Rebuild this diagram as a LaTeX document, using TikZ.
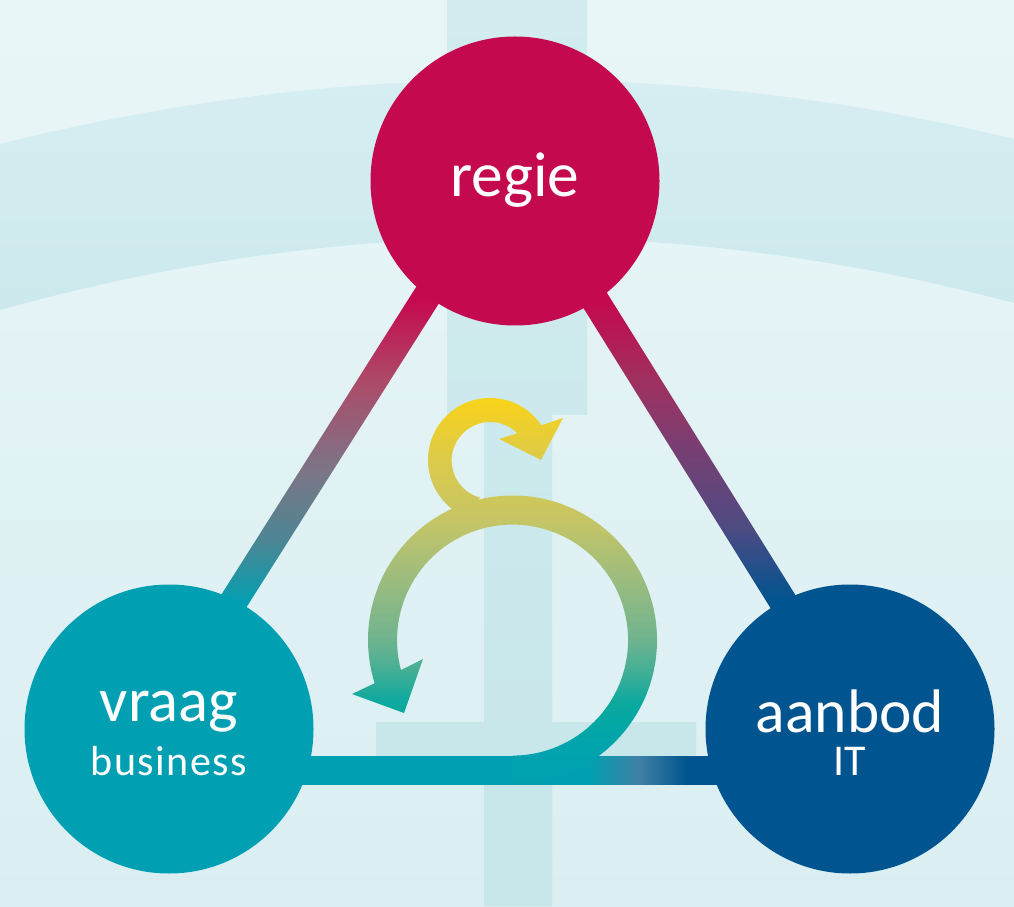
\documentclass[tikz,border=0pt]{standalone}
\usepackage{fontspec}
\setmainfont{Carlito}
\usetikzlibrary{calc}
\definecolor{crim}{HTML}{C5094E}
\definecolor{teal1}{HTML}{00A0B2}
\definecolor{navy1}{HTML}{00548F}
\definecolor{la}{HTML}{AD4A68}
\definecolor{lb}{HTML}{7C7587}
\definecolor{lc}{HTML}{4D8694}
\definecolor{ra}{HTML}{A0305F}
\definecolor{rb}{HTML}{7A3F72}
\definecolor{rc}{HTML}{4F4A82}
\definecolor{ba}{HTML}{3F80A5}
\definecolor{s1}{HTML}{00A3AE}
\definecolor{s2}{HTML}{03A8A3}
\definecolor{s3}{HTML}{0FA99E}
\definecolor{s4}{HTML}{40AE96}
\definecolor{s5}{HTML}{6FB48F}
\definecolor{s6}{HTML}{9BBC7F}
\definecolor{s7}{HTML}{C4C566}
\definecolor{s8}{HTML}{DCCB4A}
\definecolor{s9}{HTML}{F9D31A}
\pgfdeclareverticalshading{leftline}{100bp}{color(0bp)=(teal1); color(29.4bp)=(teal1); color(38.2bp)=(lc); color(47.6bp)=(lb); color(59.8bp)=(la); color(70.6bp)=(crim); color(100bp)=(crim)}
\pgfdeclareverticalshading{rightline}{100bp}{color(0bp)=(navy1); color(30bp)=(navy1); color(40bp)=(rc); color(51bp)=(rb); color(60bp)=(ra); color(70.6bp)=(crim); color(100bp)=(crim)}
\pgfdeclarehorizontalshading{bottomline}{100bp}{color(0bp)=(teal1); color(58.4bp)=(teal1); color(64.5bp)=(ba); color(70bp)=(navy1); color(100bp)=(navy1)}
\pgfdeclareverticalshading{spiral}{100bp}{color(0bp)=(teal1); color(25bp)=(teal1); color(29.5bp)=(s1); color(33.4bp)=(s2); color(36bp)=(s3); color(39.5bp)=(s4); color(43.7bp)=(s5); color(51.5bp)=(s6); color(58.9bp)=(s7); color(67bp)=(s8); color(75bp)=(s9); color(100bp)=(s9)}
\newcommand{\bigf}[1]{\fontsize{#1}{50}\selectfont}
\newcommand{\subf}{\fontsize{42}{50}\selectfont\addfontfeature{LetterSpace=3.5}}
\newcommand{\itf}{\fontsize{44}{50}\selectfont}
\tikzset{
  hub/.style={circle,minimum size=289pt,inner sep=0pt,text=white,align=center},
}
\begin{document}
\begin{tikzpicture}[x=1pt,y=1pt]
\useasboundingbox (0,0) rectangle (1014,906);
% background
\shade[top color={rgb,255:red,233;green,246;blue,247},
  bottom color={rgb,255:red,218;green,238;blue,242}] (0,0) rectangle (1014,906);
% curved band
\begin{scope}
  \clip (0,762) .. controls (338,846.3) and (676,848) .. (1014,767) -- (1014,603)
        .. controls (676,692.7) and (338,690.3) .. (0,596) -- cycle;
  \shade[top color={rgb,255:red,214;green,238;blue,241},
         bottom color={rgb,255:red,205;green,233;blue,237}] (0,596) rectangle (1014,830);
\end{scope}
% vertical I-shape
\shade[top color={rgb,255:red,210;green,236;blue,239},
       bottom color={rgb,255:red,198;green,230;blue,234}]
  (447,906) -- (587,906) -- (587,491) -- (552,491) -- (552,184) -- (696,184) -- (696,136)
  -- (552,136) -- (552,0) -- (484,0) -- (484,136) -- (376,136) -- (376,184) -- (484,184)
  -- (484,491) -- (447,491) -- cycle;
% connector end points
\coordinate (ltop) at (440.3,631);
\coordinate (lbot) at (215.5,276);
\coordinate (rtop) at (579.3,631);
\coordinate (rbot) at (800.7,276);
\coordinate (bleft) at (300,136);
\coordinate (bright) at (730,136);
% connectors
\shade[shading=leftline] ($(ltop)!14pt!90:(lbot)$) -- ($(lbot)!14pt!-90:(ltop)$)
  -- ($(lbot)!14pt!90:(ltop)$) -- ($(ltop)!14pt!-90:(lbot)$) -- cycle;
\shade[shading=rightline] ($(rtop)!14pt!90:(rbot)$) -- ($(rbot)!14pt!-90:(rtop)$)
  -- ($(rbot)!14pt!90:(rtop)$) -- ($(rtop)!14pt!-90:(rbot)$) -- cycle;
\shade[shading=bottomline] ($(bleft)+(0,14)$) rectangle ($(bright)+(0,-14)$);
% spiral arrow
\shade[shading=spiral]
  (512.5,121.5) arc[start angle=-90,end angle=197.4,radius=144.5]
  -- (352,212) -- (404,193) -- (423,247) -- (401,236)
  arc[start angle=195,end angle=-90,radius=115.5] -- cycle
  (480.2,408.3) arc[start angle=255,end angle=45,radius=38.5]
  -- (499,467) -- (541,446) -- (563,488) -- (541.4,480.7)
  arc[start angle=34,end angle=90,radius=62]
  arc[start angle=90,end angle=240,radius=62] -- cycle;
% hubs
\node[hub,fill=crim,text height=31pt,text depth=0pt] (regie) at (515,725) {\bigf{63.5}regie};
\node[hub,fill=teal1,text height=92pt,text depth=0pt] (vraag) at (169,177) {\bigf{62.5}vraag\\[13pt]\subf business};
\node[hub,fill=navy1,text height=92pt,text depth=0pt] (aanbod) at (850,177) {\bigf{61.5}aanbod\\[13pt]\itf IT};
\end{tikzpicture}
\end{document}
